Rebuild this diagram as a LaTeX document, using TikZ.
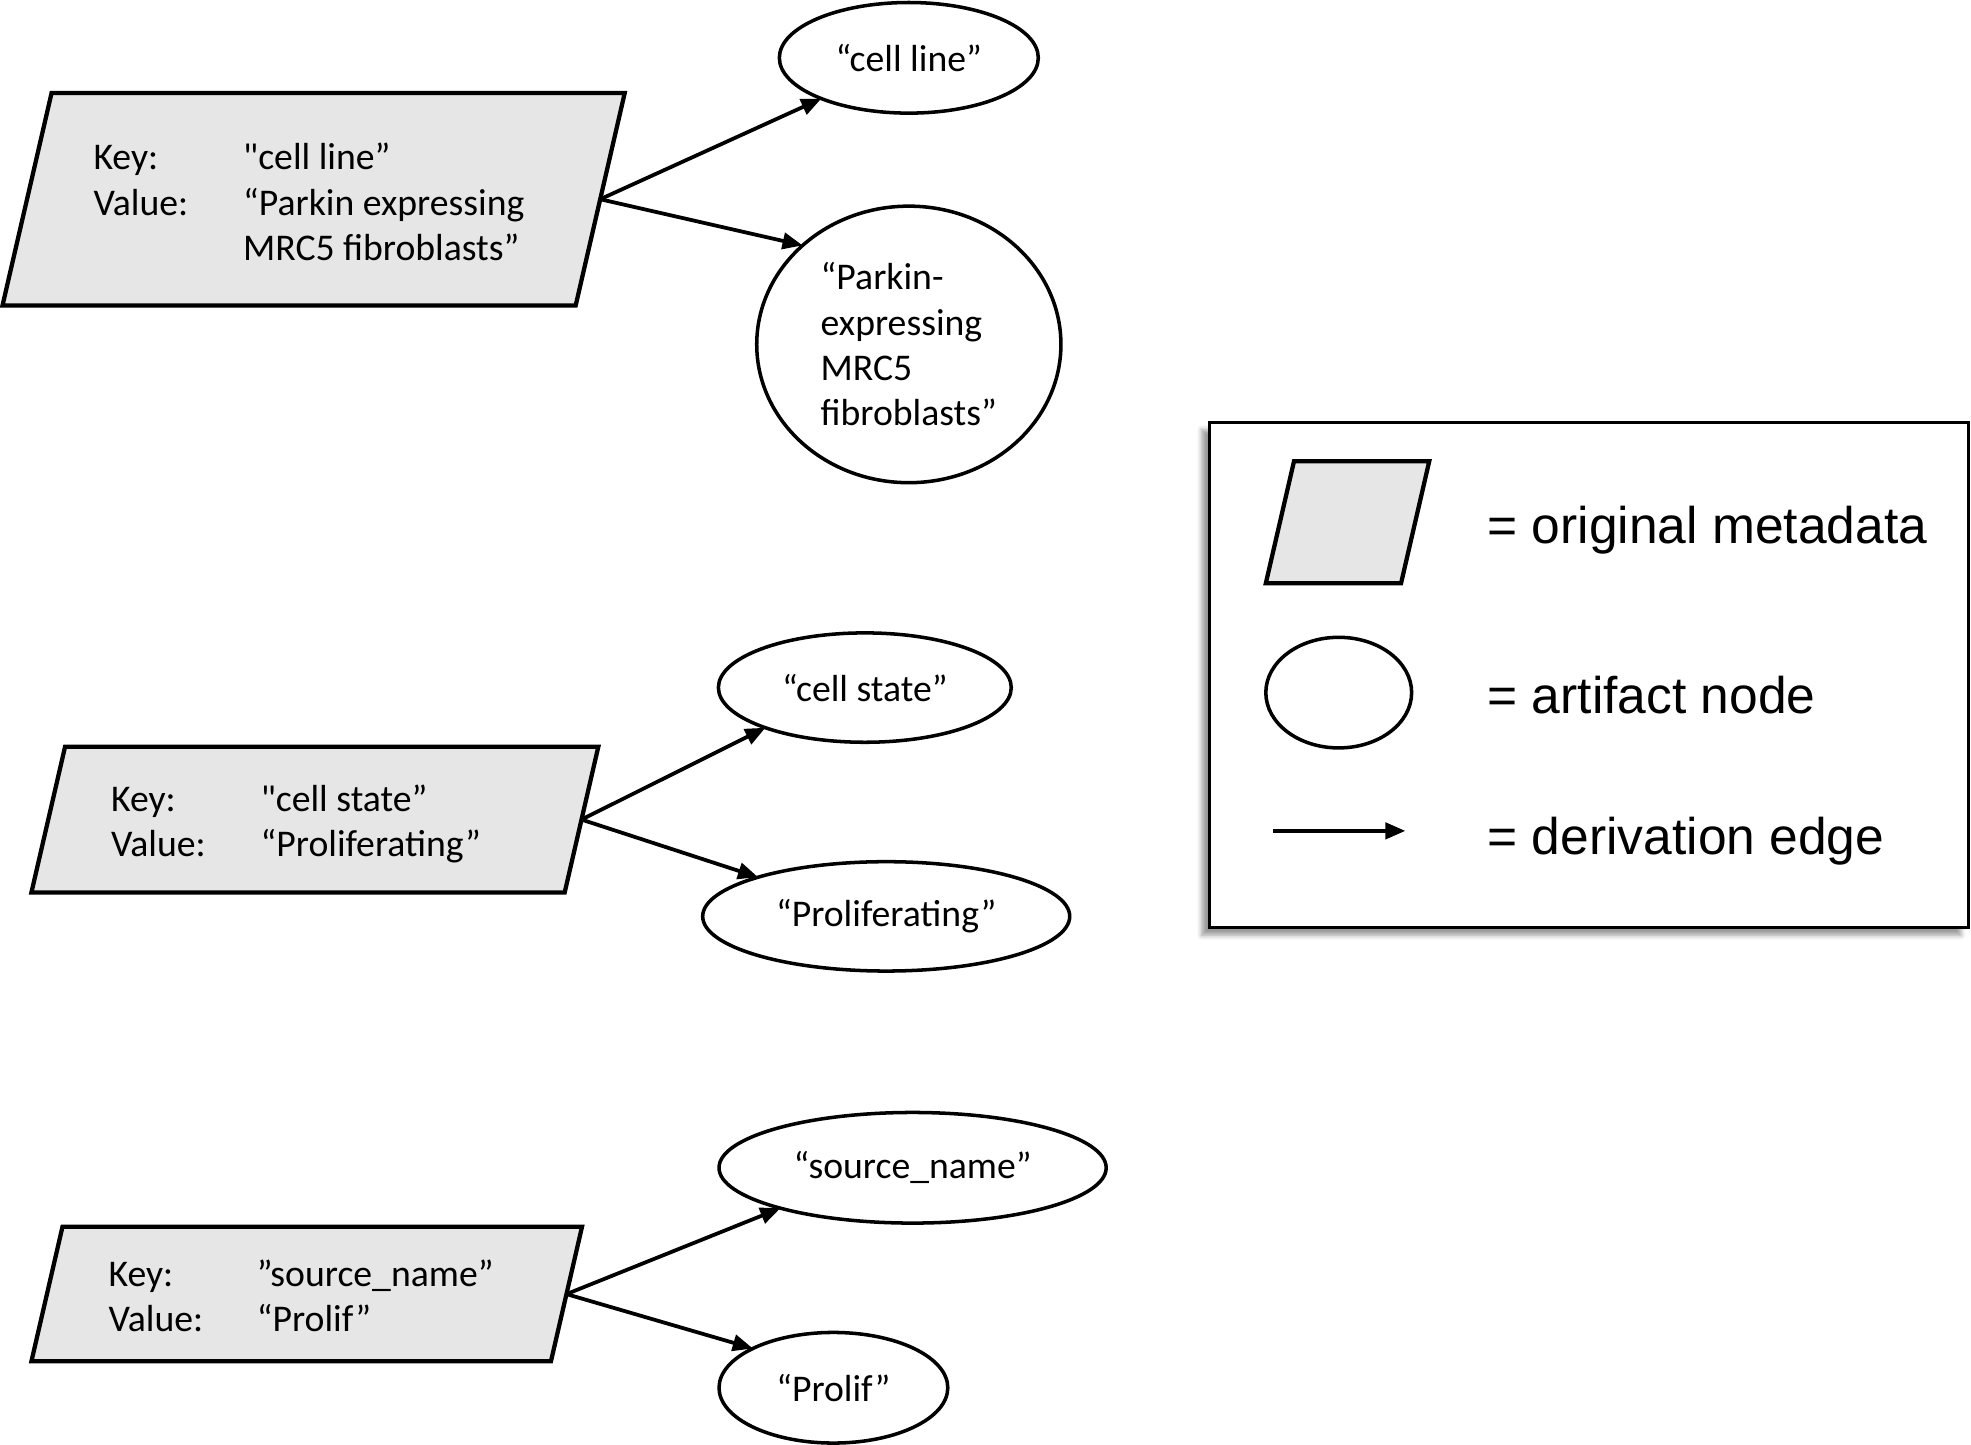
\documentclass[tikz,border=0pt]{standalone}
\usepackage{fontspec}
\setmainfont{Carlito}[Ligatures=TeXOff]
\newfontfamily\legendfont{Liberation Sans}
\usepackage{tikz}
\usetikzlibrary{shapes.geometric, arrows.meta, shadows.blur}
\definecolor{metagray}{HTML}{E6E6E6}

\begin{document}
\begin{tikzpicture}[x=0.5pt, y=-0.5pt,
    meta/.style={trapezium, trapezium left angle=77, trapezium right angle=103,
      draw, line width=1.7pt, fill=metagray, outer sep=0pt},
    artifact/.style={ellipse, draw, line width=1.4pt, inner sep=0pt, outer sep=0pt,
      font=\fontsize{15}{18}\selectfont},
    kv/.style={anchor=west, inner sep=0pt, font=\fontsize{15}{18}\selectfont},
    derive/.style={-{Triangle[length=8pt,width=6.5pt]}, line width=1.5pt},
    legendtext/.style={anchor=base west, inner sep=0pt,
      font=\legendfont\fontsize{20.5}{24}\selectfont}]
  \useasboundingbox (0,0) rectangle (1568,1149);

  % original metadata
  \node[meta, inner xsep=104.24pt, inner ysep=42.25pt] (meta1) at (249.5,158.5) {};
  \node[kv] (kv1) at (74,164) {\begin{tabular}{@{}p{59.5pt}@{}l@{}}
      Key: & "cell line” \\
      Value: & “Parkin expressing \\
      & MRC5 fibroblasts”
    \end{tabular}};
  \node[meta, inner xsep=99.36pt, inner ysep=29pt] (meta2) at (250.5,652) {};
  \node[kv] (kv2) at (88,656) {\begin{tabular}{@{}p{59.5pt}@{}l@{}}
      Key: & "cell state” \\
      Value: & “Proliferating”
    \end{tabular}};
  \node[meta, inner xsep=97.15pt, inner ysep=26.75pt] (meta3) at (244,1029.5) {};
  \node[kv] (kv3) at (86,1034) {\begin{tabular}{@{}p{59pt}@{}l@{}}
      Key: & ”source\_name” \\
      Value: & “Prolif”
    \end{tabular}};

  % artifact nodes
  \node[artifact, minimum width=103pt, minimum height=44pt] (cellline) at (723,46) {“cell line”};
  \node[artifact, minimum width=121pt, minimum height=110pt, align=left] (parkin) at (723,274)
    {“Parkin-\\expressing\\MRC5\\fibroblasts”};
  \node[artifact, minimum width=116.5pt, minimum height=43.5pt] (cellstate) at (688,547) {“cell state”};
  \node[artifact, minimum width=146pt, minimum height=43.5pt] (prolifer) at (705,729) {“Proliferating”};
  \node[artifact, minimum width=154pt, minimum height=44pt] (source) at (726,929) {“source\_name”};
  \node[artifact, minimum width=91pt, minimum height=44pt] (prolif) at (663,1104) {“Prolif”};

  % derivation edges
  \draw[derive] (meta1.east) -- (cellline.205);
  \draw[derive] (meta1.east) -- (parkin.137);
  \draw[derive] (meta2.east) -- (cellstate.202);
  \draw[derive] (meta2.east) -- (prolifer.163);
  \draw[derive] (meta3.east) -- (source.197);
  \draw[derive] (meta3.east) -- (prolif.154);

  % legend
  \node[draw, line width=1pt, fill=white, inner sep=0pt, outer sep=0pt,
    minimum width=302pt, minimum height=201pt,
    blur shadow={shadow xshift=-3pt, shadow yshift=-3pt}] (legend) at (1264,537) {};
  \node[meta, inner xsep=21.3pt, inner ysep=24.25pt] (legmeta) at (1072,415.5) {};
  \node[artifact, minimum width=58pt, minimum height=44pt] (legartifact) at (1065,551) {};
  \coordinate (legfrom) at (1013,661);
  \coordinate (legto) at (1118,661);
  \draw[derive] (legfrom) -- (legto);
  \node[legendtext] (legmetatext) at (1183,432) {= original metadata};
  \node[legendtext] (legartifacttext) at (1183,568) {= artifact node};
  \node[legendtext] (legderivetext) at (1183,680) {= derivation edge};
\end{tikzpicture}
\end{document}
